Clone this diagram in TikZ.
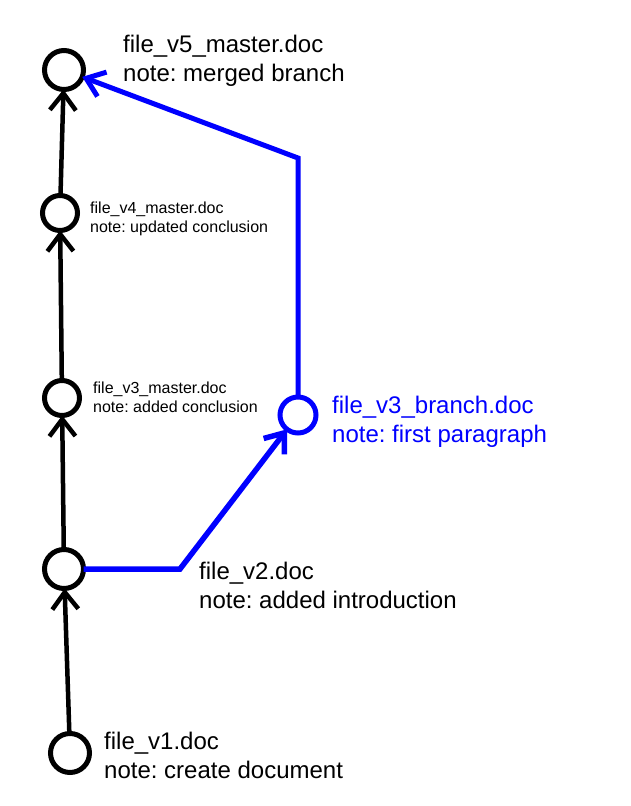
\documentclass[tikz,border=0pt]{standalone}
\usepackage{fontspec}
\setmainfont{Liberation Sans}
\usetikzlibrary{arrows.meta}
\frenchspacing

\tikzset{
	ver/.style={circle, draw, line width=5pt, inner sep=0pt, outer sep=0pt, minimum size=#1},
	ver/.default=39pt,
	edge/.style={-{Straight Barb[length=17pt,width=26pt]}, line width=4.5pt},
	big/.style={anchor=base west, align=left, inner sep=0pt, font=\fontsize{24}{29}\selectfont},
	small/.style={anchor=base west, align=left, inner sep=0pt, font=\fontsize{16}{19}\selectfont},
}

\begin{document}
\begin{tikzpicture}[x=1pt,y=-1pt]
			\useasboundingbox (0,0) rectangle (631,806);

			\node [ver] (v1) at (70,753) {};
			\node [ver] (v2) at (64,569) {};
			\node [ver=35pt] (v3m) at (62,398) {};
			\node [ver=35pt] (v4) at (60,213) {};
			\node [ver] (v5) at (64,70) {};
			\node [ver=36pt, blue] (v3b) at (298,415) {};

			\coordinate (c1) at (180,569);
			\coordinate (c2) at (298,158);

			\draw [edge] (v1) -- (v2);
			\draw [edge] (v2) -- (v3m);
			\draw [edge] (v3m) -- (v4);
			\draw [edge] (v4) -- (v5);

			\draw [edge, blue, line width=5.5pt] (v2) -- (c1) -- (v3b);
			\draw [edge, blue, line width=5pt] (v3b) -- (c2) -- (v5);

			\node [big] (l1) at (104,778) {file\_v1.doc\\note: create document};
			\node [big] (l2) at (199,608) {file\_v2.doc\\note: added introduction};
			\node [small] (l3m) at (93,412) {file\_v3\_master.doc\\note: added conclusion};
			\node [big, text=blue] (l3b) at (332,442) {file\_v3\_branch.doc\\note: first paragraph};
			\node [small] (l4) at (90,232) {file\_v4\_master.doc\\note: updated conclusion};
			\node [big] (l5) at (123,81) {file\_v5\_master.doc\\note: merged branch};
		\end{tikzpicture}
\end{document}
